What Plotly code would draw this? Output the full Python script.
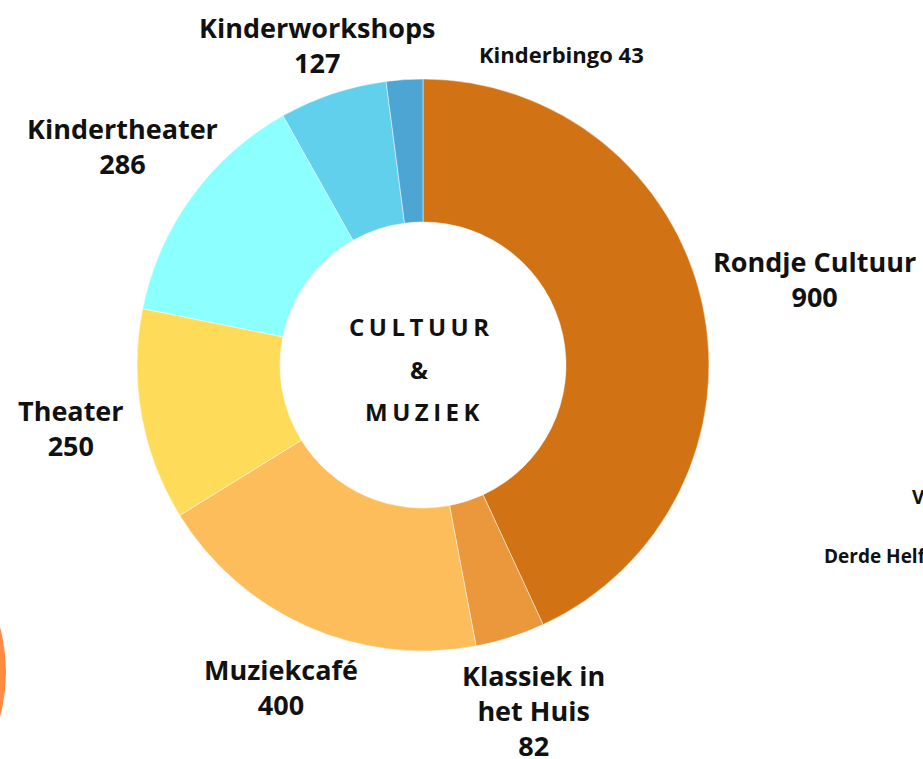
import math
import plotly.graph_objects as go

# ---- data ----
labels = ["Rondje Cultuur", "Klassiek in het Huis", "Muziekcafé", "Theater",
          "Kindertheater", "Kinderworkshops", "Kinderbingo"]
values = [900, 82, 400, 250, 286, 127, 43]
label_text = ["Rondje Cultuur<br>900", "Klassiek in<br>het Huis<br>82", "Muziekcafé<br>400",
              "Theater<br>250", "Kindertheater<br>286", "Kinderworkshops<br>127", "Kinderbingo 43"]
colors = ["#D17214", "#EA983B", "#FDBD5B", "#FEDC5A", "#8CFFFF", "#61D0EC", "#4DA5D3"]
center_lines = ["CULTUUR", "&", "MUZIEK"]

W, H = 923, 759
CX, CY, R = 423, 365, 286   # donut centre / radius in px

# label distance (in radii) along the slice mid-angle, and optional angle override
label_dist = [1.40, 1.27, 1.23, 1.25, 1.30, 1.18, 1.19]
label_angle_override = [None, None, None, None, None, None, 24.0]
label_size = [27, 27, 27, 27, 27, 27, 22]

FONT = "Open Sans"

fig = go.Figure(go.Pie(
    labels=labels, values=values, sort=False, direction="clockwise", rotation=0,
    hole=0.5, textinfo="none", hoverinfo="label+value",
    marker=dict(colors=colors, line=dict(color="rgba(255,255,255,0.6)", width=0.8)),
    domain=dict(x=[(CX - R) / W, (CX + R) / W], y=[1 - (CY + R) / H, 1 - (CY - R) / H]),
    showlegend=False,
))

def px2paper(x, y):
    return x / W, 1 - y / H

annotations = []
total = sum(values)
cum = 0
for i, v in enumerate(values):
    mid = (cum + v / 2) / total * 360
    cum += v
    ang = label_angle_override[i] if label_angle_override[i] is not None else mid
    a = math.radians(ang)
    d = label_dist[i] * R
    x, y = CX + d * math.sin(a), CY - d * math.cos(a)
    px, py = px2paper(x, y)
    annotations.append(dict(
        x=px, y=py, xref="paper", yref="paper", text="<b>" + label_text[i] + "</b>",
        showarrow=False, xanchor="center", yanchor="middle", align="center",
        font=dict(family=FONT, size=label_size[i], color="#111111", weight=800),
    ))

# centre text
for j, (t, yy) in enumerate(zip(center_lines, [327, 370, 411])):
    px, py = px2paper(CX - 2 + (3 if j == 2 else 0), yy)
    annotations.append(dict(
        x=px, y=py, xref="paper", yref="paper",
        text='<span style="letter-spacing:4.5px">' + t + '</span>',
        showarrow=False, xanchor="center", yanchor="middle",
        font=dict(family=FONT, size=24, color="#111111", weight=700),
    ))

# clipped neighbouring items of the infographic
for t, x, y in [("V", 910, 497), ("Derde Helft", 822, 556)]:
    px, py = px2paper(x, y)
    annotations.append(dict(
        x=px, y=py, xref="paper", yref="paper", text="<b>" + t + "</b>",
        showarrow=False, xanchor="left", yanchor="middle",
        font=dict(family=FONT, size=19, color="#111111", weight=800),
    ))

fig.update_layout(
    width=W, height=H, margin=dict(l=0, r=0, t=0, b=0),
    paper_bgcolor="white", plot_bgcolor="white",
    annotations=annotations,
    shapes=[dict(type="circle", xref="paper", yref="paper",
                 x0=-338 / W, x1=6 / W, y0=1 - 844 / H, y1=1 - 500 / H,
                 fillcolor="#FF8C42", line=dict(width=0), layer="below")],
)

fig.write_html("out.html")
